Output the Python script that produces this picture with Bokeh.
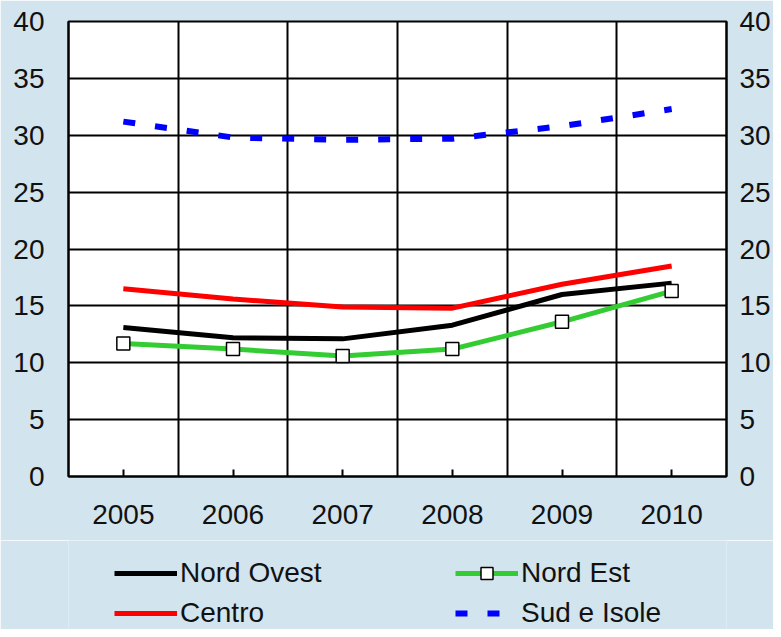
import numpy as np
from bokeh.plotting import figure
from bokeh.layouts import column
from bokeh.models import (Range1d, FixedTicker, LinearAxis, Legend, LegendItem)
from bokeh.embed import file_html
from bokeh.resources import INLINE

years = ["2005", "2006", "2007", "2008", "2009", "2010"]
nord_ovest = [13.1, 12.2, 12.1, 13.3, 16.0, 17.0]
nord_est = [11.7, 11.2, 10.6, 11.2, 13.6, 16.3]
centro = [16.5, 15.6, 14.9, 14.8, 16.9, 18.5]
sud_isole = [31.2, 29.8, 29.6, 29.7, 30.8, 32.3]
y_ticks = [0, 5, 10, 15, 20, 25, 30, 35, 40]

FONT = "Liberation Sans"
BG = "#D2E4EE"

# series styles
S_NO = dict(line_color="black", line_width=5)
S_NE = dict(line_color="#33CC33", line_width=5)
S_NE_M = dict(marker="square", size=13, fill_color="white", line_color="black", line_width=1.5)
S_CE = dict(line_color="#FF0000", line_width=5)
S_SU = dict(line_color="#0000FF", line_width=6, line_dash="12 20")

x = list(np.arange(len(years)) + 0.5)

p = figure(width=773, height=540, output_backend="svg", toolbar_location=None,
           x_range=Range1d(0, len(years)), y_range=Range1d(0, 40),
           min_border_left=68, min_border_right=47, min_border_top=21, min_border_bottom=64)
p.border_fill_color = BG
p.background_fill_color = "white"
p.outline_line_color = "black"
p.outline_line_width = 2

# axes
p.xaxis.ticker = FixedTicker(ticks=x)
p.xaxis.major_label_overrides = {xx: yr for xx, yr in zip(x, years)}
p.xaxis.major_tick_in = 7
p.xaxis.major_tick_out = 0
p.xaxis.minor_tick_line_color = None
p.xaxis.axis_line_color = "black"
p.xaxis.axis_line_width = 2
p.xaxis.major_tick_line_width = 2
p.xaxis.major_label_standoff = 28

p.yaxis.ticker = FixedTicker(ticks=y_ticks)
p.yaxis.major_tick_in = 0
p.yaxis.major_tick_out = 0
p.yaxis.minor_tick_line_color = None
p.yaxis.axis_line_color = "black"
p.yaxis.axis_line_width = 2
p.yaxis.major_label_standoff = 24

right = LinearAxis(ticker=FixedTicker(ticks=y_ticks), major_tick_in=0, major_tick_out=0,
                   minor_tick_line_color=None, axis_line_color="black", axis_line_width=2,
                   major_label_standoff=13)
p.add_layout(right, "right")

for ax in [p.xaxis[0], p.yaxis[0], right]:
    ax.major_label_text_font = FONT
    ax.major_label_text_font_size = "28px"
    ax.major_label_text_color = "#111111"

# grids
p.xgrid.ticker = FixedTicker(ticks=list(range(1, len(years))))
p.xgrid.grid_line_color = "black"
p.xgrid.grid_line_width = 2
p.ygrid.ticker = FixedTicker(ticks=y_ticks)
p.ygrid.grid_line_color = "black"
p.ygrid.grid_line_width = 2

# series
p.line(x, sud_isole, **S_SU)
p.line(x, centro, **S_CE)
p.line(x, nord_ovest, **S_NO)
p.line(x, nord_est, **S_NE)
p.scatter(x, nord_est, **S_NE_M)

# legend strip (separate figure so the legend is not clipped by the plot frame);
# its ranges keep the duplicated series out of view, only the legend glyphs show
lg = figure(width=773, height=89, output_backend="svg", toolbar_location=None,
            x_range=Range1d(0, 1), y_range=Range1d(-2, -1),
            x_axis_location=None, y_axis_location=None,
            min_border_left=0, min_border_right=0, min_border_top=0, min_border_bottom=0)
lg.border_fill_color = BG
lg.background_fill_color = BG
lg.outline_line_color = None
lg.grid.visible = False
l_no = lg.line(x, nord_ovest, **S_NO)
l_ne = lg.line(x, nord_est, **S_NE)
l_ne_m = lg.scatter(x, nord_est, **S_NE_M)
l_ce = lg.line(x, centro, **S_CE)
l_su = lg.line(x, sud_isole, **S_SU)

legend = Legend(items=[
    LegendItem(label="Nord Ovest", renderers=[l_no]),
    LegendItem(label="Nord Est", renderers=[l_ne, l_ne_m]),
    LegendItem(label="Centro", renderers=[l_ce]),
    LegendItem(label="Sud e Isole", renderers=[l_su]),
], location=(46, 0), nrows=2, orientation="horizontal")
legend.label_text_font = FONT
legend.label_text_font_size = "28px"
legend.label_text_color = "#111111"
legend.glyph_width = 63
legend.glyph_height = 30
legend.label_standoff = 3
legend.label_width = 267
legend.spacing = 8
legend.padding = 0
legend.margin = 0
legend.border_line_color = None
legend.background_fill_alpha = 0
lg.add_layout(legend, "center")

layout = column(p, lg, spacing=0)
open("out.html", "w").write(file_html(layout, INLINE))
